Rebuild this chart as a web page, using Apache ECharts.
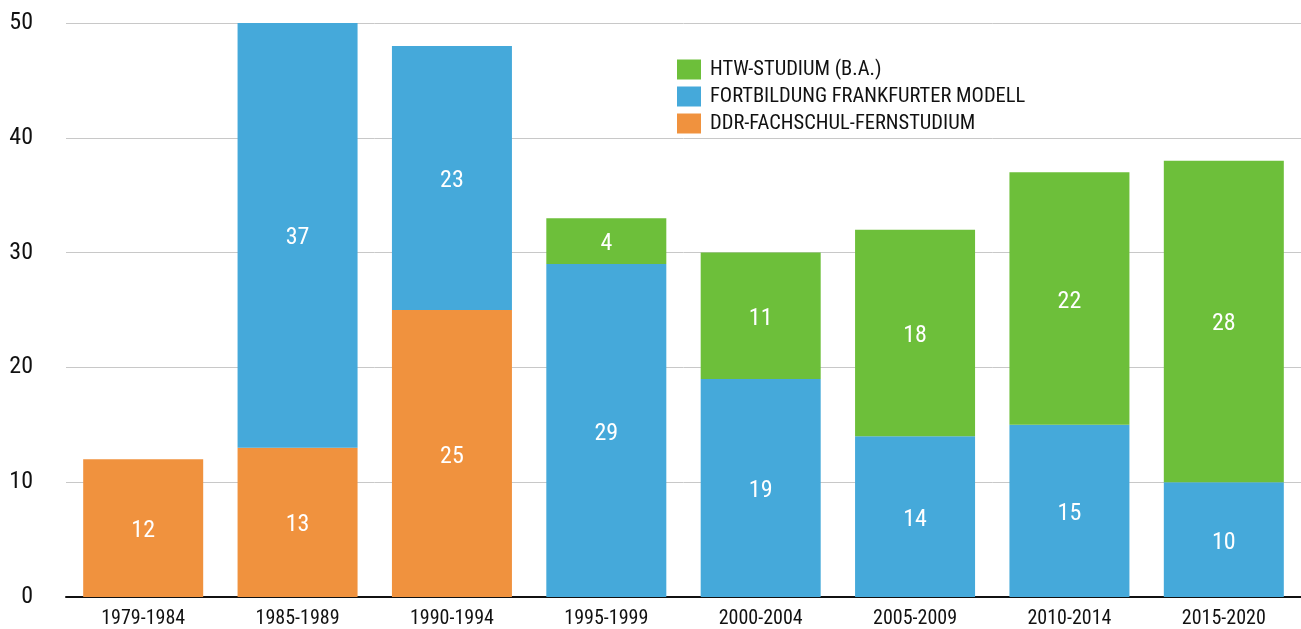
<!DOCTYPE html>
<html>
<head>
<meta charset="utf-8">
<script src="https://cdn.jsdelivr.net/npm/echarts@6/dist/echarts.min.js"></script>
<style>
html, body { margin: 0; padding: 0; background: #fff; }
#chart { width: 1301px; height: 629px; }
</style>
</head>
<body>
<div id="chart"></div>
<script>
// Zeiträume
var periods = ['1979-1984', '1985-1989', '1990-1994', '1995-1999', '2000-2004', '2005-2009', '2010-2014', '2015-2020'];
// Werte je Studienform
var ddrFernstudium = [12, 13, 25, null, null, null, null, null];
var fortbildung = [null, 37, 23, 29, 19, 14, 15, 10];
var htwStudium = [null, null, null, 4, 11, 18, 22, 28];
var yTicks = [0, 10, 20, 30, 40, 50];

var FONT = "'Liberation Sans Narrow', 'Roboto Condensed', 'DejaVu Sans Condensed', sans-serif";

var chart = echarts.init(document.getElementById('chart'));

function seg(name, data, color) {
    return {
        name: name,
        type: 'bar',
        stack: 'gesamt',
        barWidth: 120,
        data: data,
        itemStyle: { color: color },
        label: {
            show: true,
            position: 'inside',
            color: '#fff',
            fontSize: 24,
            fontFamily: FONT,
            offset: [0, 3]
        }
    };
}

var option = {
    animation: false,
    grid: { left: 66, right: 0, top: 23, bottom: 31 },
    legend: {
        orient: 'vertical',
        left: 677,
        top: 59,
        padding: 0,
        itemWidth: 24,
        itemHeight: 20,
        itemGap: 6,
        icon: 'rect',
        data: ['HTW-STUDIUM (B.A.)', 'FORTBILDUNG FRANKFURTER MODELL', 'DDR-FACHSCHUL-FERNSTUDIUM'],
        textStyle: { fontSize: 20.5, lineHeight: 20, color: '#111', fontFamily: FONT, padding: [0, 0, 0, 4] }
    },
    xAxis: {
        type: 'category',
        data: periods,
        axisTick: { show: false },
        axisLine: { lineStyle: { color: '#111', width: 2 } },
        axisLabel: { color: '#111', fontSize: 20, fontFamily: FONT, margin: 12 }
    },
    yAxis: {
        type: 'value',
        min: yTicks[0],
        max: yTicks[yTicks.length - 1],
        interval: 10,
        axisLine: { show: false },
        axisTick: { show: false },
        splitLine: { lineStyle: { color: '#c8c8c8', width: 1 } },
        axisLabel: { color: '#111', fontSize: 24, fontFamily: FONT, margin: 33 }
    },
    series: [
        seg('DDR-FACHSCHUL-FERNSTUDIUM', ddrFernstudium, '#F0923E'),
        seg('FORTBILDUNG FRANKFURTER MODELL', fortbildung, '#45A9DA'),
        seg('HTW-STUDIUM (B.A.)', htwStudium, '#6DBF3A')
    ]
};
chart.setOption(option);
</script>
</body>
</html>
